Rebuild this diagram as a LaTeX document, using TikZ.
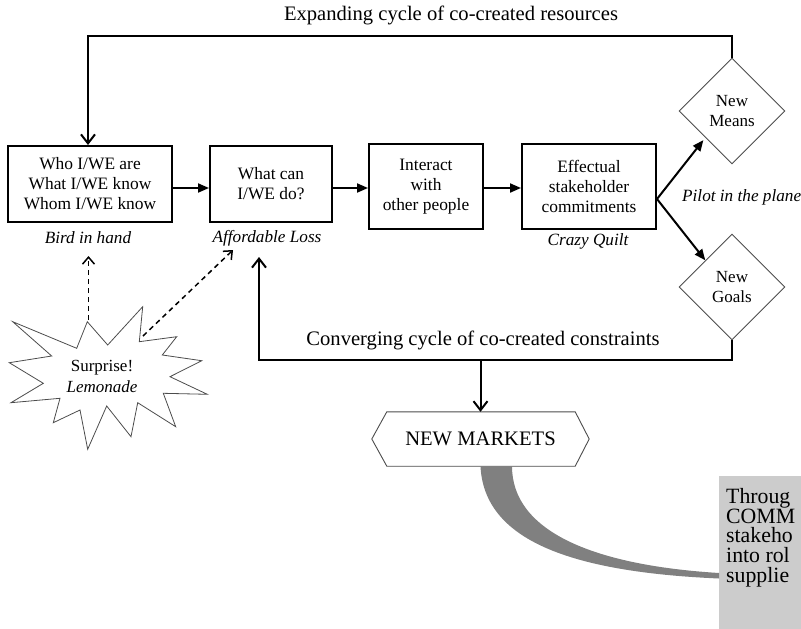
\documentclass[tikz,border=0pt]{standalone}
\usepackage{fontspec}
\setmainfont{Liberation Serif}
\usetikzlibrary{arrows.meta,shapes.geometric,calc}
\newcommand{\tightlines}{\setlength{\lineskiplimit}{-30pt}}
\begin{document}
\begin{tikzpicture}[x=1pt,y=-1pt,
  box/.style={draw, line width=2pt, align=center, font=\fontsize{17.4}{20}\selectfont, inner sep=0pt},
  lbl/.style={font=\fontsize{17.2}{20}\selectfont\itshape, inner sep=1pt},
  dia/.style={draw=black!70, line width=0.9pt, diamond, minimum width=106pt, minimum height=106pt, inner sep=0pt, align=center, font=\fontsize{17}{20}\selectfont},
  big/.style={font=\fontsize{20.6}{24}\selectfont},
  thinline/.style={draw=black!70, line width=0.9pt},
  flow/.style={line width=2pt, -{Triangle[length=11pt,width=9pt]}},
  chev/.style={line width=2pt, -{Straight Barb[length=9pt,width=14pt,line width=2pt]}},
  dasharrow/.style={line width=1.5pt, dash pattern=on 5pt off 4pt, -{Straight Barb[length=7pt,width=12pt,line width=1.5pt]}},
  swoosh/.style={fill=black!50},
  calltext/.style={anchor=north west, align=left, inner sep=0pt, font=\fontsize{21.8}{19.8}\selectfont\tightlines},
]
\useasboundingbox (0,0) rectangle (801,629);

% main boxes
\node[box, minimum width=164pt, minimum height=76pt] (b1) at (90,184) {Who I/WE are\\What I/WE know\\Whom I/WE know};
\node[box, minimum width=122pt, minimum height=76pt] (b2) at (271,184) {What can\\I/WE do?};
\node[box, minimum width=114pt, minimum height=85pt] (b3) at (426,186.5) {Interact\\with\\other people};
\node[box, minimum width=134pt, minimum height=85pt] (b4) at (589,186.5) {Effectual\\stakeholder\\commitments};

% labels
\node[lbl] (bird) at (88,238) {Bird in hand};
\node[lbl] (afford) at (267,238) {Affordable Loss};
\node[lbl] (crazy) at (588,241) {Crazy Quilt};
\node[lbl, anchor=west] (pilot) at (681,197) {Pilot in the plane};

% diamonds
\node[dia] (nm) at (732,111) {New\\Means};
\node[dia] (ng) at (732,287) {New\\Goals};

% cycle texts
\node[big] (t1) at (451,15) {Expanding cycle of co-created resources};
\node[big] (t2) at (483,340) {Converging cycle of co-created constraints};

% new markets hexagon
\node[big, minimum width=217pt, minimum height=54pt, inner sep=0pt] (mk) at (480.5,439) {NEW MARKETS};
\draw[thinline] (mk.west) -- ([xshift=15pt]mk.north west) -- ([xshift=-14pt]mk.north east) -- (mk.east) -- ([xshift=-14pt]mk.south east) -- ([xshift=15pt]mk.south west) -- cycle;

% starburst
\draw[thinline, line width=0.8pt, line join=miter] (12.7,321.7) -- (76.7,348.3) -- (87.3,321.7) -- (107.7,345) -- (142.7,306.7) -- (139.3,341.7) -- (176.7,336.7) -- (162.3,355) -- (201.7,360.7) -- (170,376.7) -- (207.3,394.3) -- (163.3,393.3) -- (175.7,426.7) -- (137.7,402.7) -- (131,436.7) -- (106.7,406) -- (87.7,449.3) -- (80,410) -- (53.3,422.7) -- (60,398.3) -- (11,402.7) -- (43.3,383.3) -- (9.3,362.7) -- (51.7,356) -- cycle;
\node[align=center, font=\fontsize{17}{21}\selectfont] (sur) at (102,376) {Surprise!\\\textit{Lemonade}};
\coordinate (tipA) at (88.5,320);
\coordinate (tipB) at (143,336);
\coordinate (birdin) at (88.5,256);
\coordinate (affin) at (233,250);

% flow arrows
\draw[flow] ([yshift=-4pt]b1.east) -- ([yshift=-4pt]b2.west);
\draw[flow] ([yshift=-4pt]b2.east) -- ([yshift=-4pt]b2.east -| b3.west);
\draw[flow] ([yshift=-1.5pt]b3.east) -- ([yshift=-1.5pt]b4.west);
\draw[flow, shorten >=3pt] ([yshift=-12.5pt]b4.east) -- (nm.south west);
\draw[flow] ([yshift=-12.5pt]b4.east) -- (ng.north west);

% cycles
\draw[chev] (nm.north) -- ++(0,-22) -| ([xshift=-2pt]b1.north);
\coordinate (loopend) at (259,257);
\coordinate (lb) at (0,360);
\draw[chev] (ng.south) -- (ng.south |- lb) -| (loopend);
\draw[chev] (mk.north |- lb) -- (mk.north);

% dashed arrows
\draw[dasharrow] (tipA) -- (birdin);
\draw[dasharrow] (tipB) -- (affin);

% callout
\fill[black!20] (719,476) rectangle (801,629);
\node[calltext] (cb) at (726,488) {Throug\\COMM\\stakeho\\into rol\\supplie};
\coordinate (tip1) at (719,578.5);
\coordinate (tip2) at (719,573);
\fill[swoosh] (mk.south) .. controls (484,540) and (570,572) .. (tip1) -- (tip2) .. controls (590,565) and (512,530) .. ([xshift=31.5pt]mk.south) -- cycle;
\end{tikzpicture}
\end{document}
